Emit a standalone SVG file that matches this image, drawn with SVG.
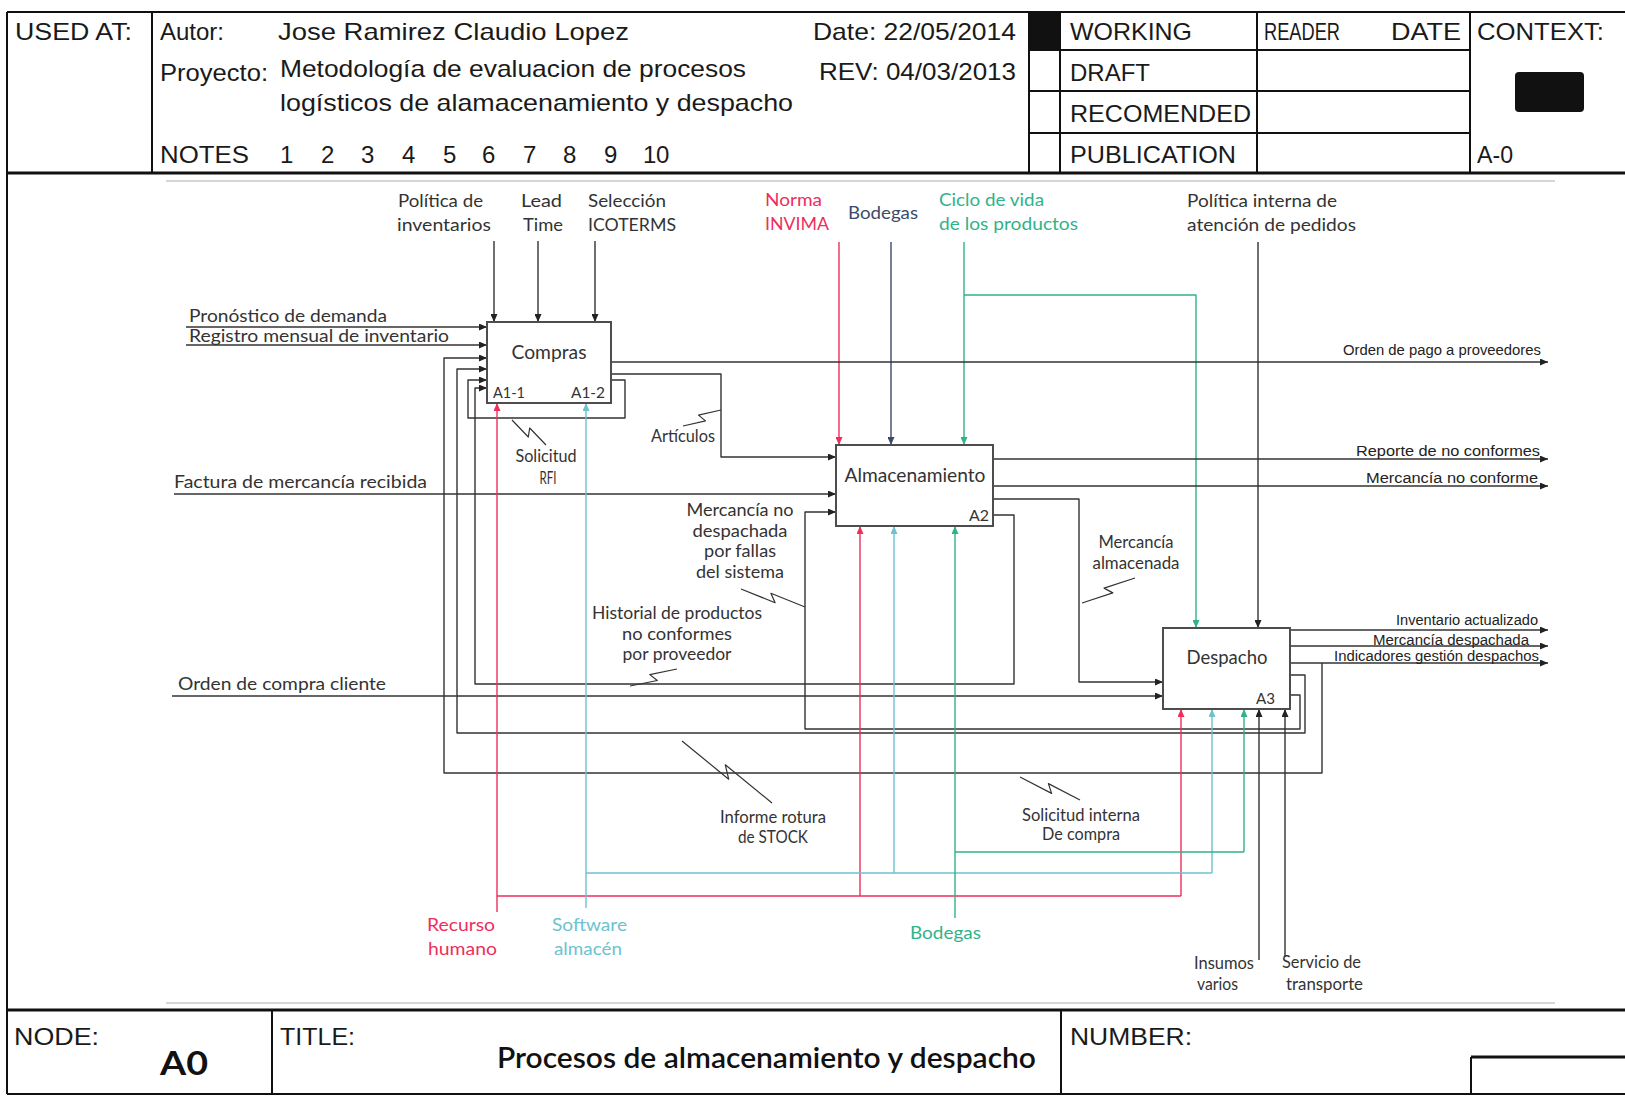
<svg xmlns="http://www.w3.org/2000/svg" width="1625" height="1096" viewBox="0 0 1625 1096">
  <defs>
    <style>
      .frame { fill: none; stroke: #111; stroke-width: 2; }
      .thick { fill: none; stroke: #111; stroke-width: 3.2; }
      .faint { fill: none; stroke: #d6d6d6; stroke-width: 2; }
      .hdr { font-family: "Liberation Sans", Arial, sans-serif; font-size: 24px; fill: #1a1a1a; }
      .lbl { font-family: Lato, "Liberation Sans", sans-serif; font-size: 17px; fill: #333; }
      .out { font-family: "Liberation Sans", Arial, sans-serif; font-size: 14px; fill: #222; }
      .red { fill: #ee2e5b; }
      .grn { fill: #2fb38a; }
      .teal { fill: #6cc2cf; }
      .navy { fill: #3b4a6a; }
      .box { fill: #fff; stroke: #4d4d4d; stroke-width: 2; }
      .name { font-family: Lato, "Liberation Sans", sans-serif; font-size: 19px; fill: #333; }
      .code { font-family: Lato, "Liberation Sans", sans-serif; font-size: 15px; fill: #333; }
      .conn path { fill: none; stroke: #333; stroke-width: 1.4; stroke-linejoin: round; }
      .conn .k { marker-end: url(#ak); }
      .conn .r { stroke: #ee2e5b; }
      .conn .r.m { marker-end: url(#ar); }
      .conn .g { stroke: #2fb38a; }
      .conn .g.m { marker-end: url(#ag); }
      .conn .t { stroke: #6cc2cf; }
      .conn .t.m { marker-end: url(#at); }
      .conn .n { stroke: #3b4a6a; marker-end: url(#an); }
      .conn .sq { stroke: #333; stroke-width: 1.2; }
      .bold { font-family: Lato, "Liberation Sans", sans-serif; font-weight: bold; fill: #111; }
    </style>
    <marker id="ak" viewBox="0 0 8 7" refX="8" refY="3.5" markerWidth="8" markerHeight="7" markerUnits="userSpaceOnUse" orient="auto"><path d="M0,0 L8,3.5 L0,7 z" fill="#222"/></marker>
    <marker id="ar" viewBox="0 0 8 7" refX="8" refY="3.5" markerWidth="8" markerHeight="7" markerUnits="userSpaceOnUse" orient="auto"><path d="M0,0 L8,3.5 L0,7 z" fill="#ee2e5b"/></marker>
    <marker id="ag" viewBox="0 0 8 7" refX="8" refY="3.5" markerWidth="8" markerHeight="7" markerUnits="userSpaceOnUse" orient="auto"><path d="M0,0 L8,3.5 L0,7 z" fill="#2fb38a"/></marker>
    <marker id="at" viewBox="0 0 8 7" refX="8" refY="3.5" markerWidth="8" markerHeight="7" markerUnits="userSpaceOnUse" orient="auto"><path d="M0,0 L8,3.5 L0,7 z" fill="#6cc2cf"/></marker>
    <marker id="an" viewBox="0 0 8 7" refX="8" refY="3.5" markerWidth="8" markerHeight="7" markerUnits="userSpaceOnUse" orient="auto"><path d="M0,0 L8,3.5 L0,7 z" fill="#3b4a6a"/></marker>
  </defs>

  <rect width="1625" height="1096" fill="#fff"/>

  <!-- Title block: header -->
  <g id="header">
    <path class="frame" d="M7 12 H1625 M7 12 V1094 M152 12 V173 M1029 12 V173 M1060 12 V173 M1257 12 V173 M1470 12 V173 M1029 50 H1470 M1029 91 H1470 M1029 133 H1470"/>
    <rect x="1029" y="12" width="31" height="38" fill="#111"/>
    <path class="thick" d="M7 173 H1625"/>
    <rect x="1515" y="72" width="69" height="40" rx="4" fill="#111"/>
    <text class="hdr" x="15" y="40" textLength="117" lengthAdjust="spacingAndGlyphs">USED AT:</text>
    <text class="hdr" x="160" y="40" textLength="64" lengthAdjust="spacingAndGlyphs">Autor:</text>
    <text class="hdr" x="278" y="40" textLength="351" lengthAdjust="spacingAndGlyphs">Jose Ramirez Claudio Lopez</text>
    <text class="hdr" x="813" y="40" textLength="203" lengthAdjust="spacingAndGlyphs">Date: 22/05/2014</text>
    <text class="hdr" x="160" y="81" textLength="108" lengthAdjust="spacingAndGlyphs">Proyecto:</text>
    <text class="hdr" x="280" y="77" textLength="466" lengthAdjust="spacingAndGlyphs">Metodología de evaluacion de procesos</text>
    <text class="hdr" x="280" y="111" textLength="513" lengthAdjust="spacingAndGlyphs">logísticos de alamacenamiento y despacho</text>
    <text class="hdr" x="819" y="80" textLength="197" lengthAdjust="spacingAndGlyphs">REV: 04/03/2013</text>
    <text class="hdr" x="160" y="163" textLength="89" lengthAdjust="spacingAndGlyphs">NOTES</text>
    <text class="hdr" x="280 321 361 402 443 482 523 563 604 643 656" y="163">12345678910</text>
    <text class="hdr" x="1070" y="40" textLength="122" lengthAdjust="spacingAndGlyphs">WORKING</text>
    <text class="hdr" x="1070" y="81" textLength="80" lengthAdjust="spacingAndGlyphs">DRAFT</text>
    <text class="hdr" x="1070" y="122" textLength="181" lengthAdjust="spacingAndGlyphs">RECOMENDED</text>
    <text class="hdr" x="1070" y="163" textLength="166" lengthAdjust="spacingAndGlyphs">PUBLICATION</text>
    <text class="hdr" x="1264" y="40" textLength="76" lengthAdjust="spacingAndGlyphs">READER</text>
    <text class="hdr" x="1391" y="40" textLength="70" lengthAdjust="spacingAndGlyphs">DATE</text>
    <text class="hdr" x="1477" y="40" textLength="127" lengthAdjust="spacingAndGlyphs">CONTEXT:</text>
    <text class="hdr" x="1477" y="163" textLength="36" lengthAdjust="spacingAndGlyphs">A-0</text>
  </g>

  <!-- faint inner sheet border -->
  <path class="faint" d="M166 181 H1555 M166 1003 H1555"/>

  <!-- Title block: footer -->
  <g id="footer">
    <path class="thick" d="M7 1010 H1625 M1471 1057 H1625"/>
    <path class="frame" d="M272 1010 V1094 M1061 1010 V1094 M1471 1057 V1094 M7 1094 H1625"/>
    <text class="hdr" x="14" y="1045" textLength="85" lengthAdjust="spacingAndGlyphs">NODE:</text>
    <text class="bold" x="160" y="1075" font-size="32" textLength="48" lengthAdjust="spacingAndGlyphs">A0</text>
    <text class="hdr" x="280" y="1045" textLength="75" lengthAdjust="spacingAndGlyphs">TITLE:</text>
    <text class="bold" x="497" y="1068" font-size="28" textLength="539" lengthAdjust="spacingAndGlyphs" style="font-weight:600">Procesos de almacenamiento y despacho</text>
    <text class="hdr" x="1070" y="1045" textLength="122" lengthAdjust="spacingAndGlyphs">NUMBER:</text>
  </g>

  <!-- Arrows (ICOM connectors) -->
  <g id="connectors" class="conn">
    <!-- controls -->
    <path class="k" d="M494 241 V322"/>
    <path class="k" d="M538 241 V322"/>
    <path class="k" d="M595 241 V322"/>
    <path class="r m" d="M839 242 V445"/>
    <path class="n" d="M891 242 V445"/>
    <path class="g m" d="M964 242 V445"/>
    <path class="g m" d="M964 295 H1196 V628"/>
    <path class="k" d="M1258 242 V628"/>
    <!-- inputs -->
    <path class="k" d="M186 327 H487"/>
    <path class="k" d="M186 345 H487"/>
    <path class="k" d="M174 494 H836"/>
    <path class="k" d="M172 696 H1163"/>
    <!-- outputs -->
    <path class="k" d="M611 362 H1548"/>
    <path class="k" d="M611 374 H721 V457 H836"/>
    <path class="k" d="M611 380 H625 V418 H468 V380 H487"/>
    <path class="k" d="M993 459 H1548"/>
    <path class="k" d="M993 486 H1548"/>
    <path class="k" d="M993 499 H1079 V682 H1163"/>
    <path class="k" d="M993 515 H1014 V684 H475 V388 H487"/>
    <path class="k" d="M1290 630 H1548"/>
    <path class="k" d="M1290 646 H1548"/>
    <path class="k" d="M1290 663 H1548"/>
    <!-- feedback loops -->
    <path class="k" d="M1322 663 V773 H444 V358 H487"/>
    <path class="k" d="M1290 675 H1305 V733 H457 V369 H487"/>
    <path class="k" d="M1290 695 H1300 V729 H805 V512 H836"/>
    <!-- mechanisms -->
    <path class="r" d="M497 896 H1181"/>
    <path class="r m" d="M497 912 V403"/>
    <path class="r m" d="M860 896 V526"/>
    <path class="r m" d="M1181 896 V709"/>
    <path class="t" d="M586 873 H1212"/>
    <path class="t m" d="M586 908 V403"/>
    <path class="t m" d="M894 873 V526"/>
    <path class="t m" d="M1212 873 V709"/>
    <path class="g" d="M955 852 H1244"/>
    <path class="g m" d="M955 918 V526"/>
    <path class="g m" d="M1244 852 V709"/>
    <path class="k" d="M1259 960 V709"/>
    <path class="k" d="M1285 957 V709"/>
    <!-- label squiggles -->
    <path class="sq" d="M512 420 L528.3 437 L529.7 428 L546 445"/>
    <path class="sq" d="M683 426 L705.5 420.9 L698.5 415.1 L721 410"/>
    <path class="sq" d="M741 589 L775.1 602.7 L770.9 593.3 L805 607"/>
    <path class="sq" d="M677 669 L649.8 674.6 L657.3 680.5 L630 686"/>
    <path class="sq" d="M682 741 L728.7 779.2 L725.3 764.8 L772 803"/>
    <path class="sq" d="M1020 777 L1051.6 793.4 L1048.4 783.6 L1080 800"/>
    <path class="sq" d="M1135 578 L1104.1 588.1 L1112.8 592.9 L1082 603"/>
  </g>

  <!-- Activity boxes -->
  <g id="compras">
    <rect class="box" x="487" y="322" width="124" height="81"/>
    <text class="name" x="549" y="359" text-anchor="middle" textLength="75" lengthAdjust="spacingAndGlyphs">Compras</text>
    <text class="code" x="493" y="398" textLength="32" lengthAdjust="spacingAndGlyphs">A1-1</text>
    <text class="code" x="571" y="398" textLength="34" lengthAdjust="spacingAndGlyphs">A1-2</text>
  </g>
  <g id="almacenamiento">
    <rect class="box" x="836" y="445" width="157" height="81"/>
    <text class="name" x="915" y="482" text-anchor="middle" textLength="141" lengthAdjust="spacingAndGlyphs">Almacenamiento</text>
    <text class="code" x="969" y="521" textLength="20" lengthAdjust="spacingAndGlyphs">A2</text>
  </g>
  <g id="despacho">
    <rect class="box" x="1163" y="628" width="127" height="81"/>
    <text class="name" x="1227" y="664" text-anchor="middle" textLength="81" lengthAdjust="spacingAndGlyphs">Despacho</text>
    <text class="code" x="1256" y="704" textLength="19" lengthAdjust="spacingAndGlyphs">A3</text>
  </g>

  <!-- Arrow labels -->
  <g id="labels">
    <text class="lbl" x="398" y="207" textLength="85" lengthAdjust="spacingAndGlyphs">Política de</text>
    <text class="lbl" x="397" y="231" textLength="94" lengthAdjust="spacingAndGlyphs">inventarios</text>
    <text class="lbl" x="521" y="207" textLength="41" lengthAdjust="spacingAndGlyphs">Lead</text>
    <text class="lbl" x="523" y="231" textLength="40" lengthAdjust="spacingAndGlyphs">Time</text>
    <text class="lbl" x="588" y="207" textLength="78" lengthAdjust="spacingAndGlyphs">Selección</text>
    <text class="lbl" x="588" y="231" textLength="88" lengthAdjust="spacingAndGlyphs">ICOTERMS</text>
    <text class="lbl red" x="765" y="206" textLength="57" lengthAdjust="spacingAndGlyphs">Norma</text>
    <text class="lbl red" x="765" y="230" textLength="64" lengthAdjust="spacingAndGlyphs">INVIMA</text>
    <text class="lbl navy" x="848" y="219" textLength="70" lengthAdjust="spacingAndGlyphs">Bodegas</text>
    <text class="lbl grn" x="939" y="206" textLength="105" lengthAdjust="spacingAndGlyphs">Ciclo de vida</text>
    <text class="lbl grn" x="939" y="230" textLength="139" lengthAdjust="spacingAndGlyphs">de los productos</text>
    <text class="lbl" x="1187" y="207" textLength="150" lengthAdjust="spacingAndGlyphs">Política interna de</text>
    <text class="lbl" x="1187" y="231" textLength="169" lengthAdjust="spacingAndGlyphs">atención de pedidos</text>

    <text class="lbl" x="189" y="322" font-size="16" textLength="198" lengthAdjust="spacingAndGlyphs">Pronóstico de demanda</text>
    <text class="lbl" x="189" y="342" font-size="16" textLength="260" lengthAdjust="spacingAndGlyphs">Registro mensual de inventario</text>
    <text class="lbl" x="174" y="488" textLength="253" lengthAdjust="spacingAndGlyphs">Factura de mercancía recibida</text>
    <text class="lbl" x="178" y="690" textLength="208" lengthAdjust="spacingAndGlyphs">Orden de compra cliente</text>

    <text class="lbl" x="546" y="462" text-anchor="middle" font-size="15" textLength="61" lengthAdjust="spacingAndGlyphs">Solicitud</text>
    <text class="lbl" x="548" y="484" text-anchor="middle" font-size="15" textLength="17" lengthAdjust="spacingAndGlyphs">RFI</text>
    <text class="lbl" x="683" y="442" text-anchor="middle" font-size="15" textLength="64" lengthAdjust="spacingAndGlyphs">Artículos</text>
    <text class="lbl" x="740" y="516" text-anchor="middle" textLength="107" lengthAdjust="spacingAndGlyphs">Mercancía no</text>
    <text class="lbl" x="740" y="537" text-anchor="middle" textLength="95" lengthAdjust="spacingAndGlyphs">despachada</text>
    <text class="lbl" x="740" y="557" text-anchor="middle" textLength="72" lengthAdjust="spacingAndGlyphs">por fallas</text>
    <text class="lbl" x="740" y="578" text-anchor="middle" textLength="88" lengthAdjust="spacingAndGlyphs">del sistema</text>
    <text class="lbl" x="677" y="619" text-anchor="middle" textLength="170" lengthAdjust="spacingAndGlyphs">Historial de productos</text>
    <text class="lbl" x="677" y="640" text-anchor="middle" textLength="110" lengthAdjust="spacingAndGlyphs">no conformes</text>
    <text class="lbl" x="677" y="660" text-anchor="middle" textLength="109" lengthAdjust="spacingAndGlyphs">por proveedor</text>
    <text class="lbl" x="1136" y="548" text-anchor="middle" font-size="15" textLength="75" lengthAdjust="spacingAndGlyphs">Mercancía</text>
    <text class="lbl" x="1136" y="569" text-anchor="middle" font-size="15" textLength="87" lengthAdjust="spacingAndGlyphs">almacenada</text>
    <text class="lbl" x="773" y="823" text-anchor="middle" font-size="15" textLength="106" lengthAdjust="spacingAndGlyphs">Informe rotura</text>
    <text class="lbl" x="773" y="843" text-anchor="middle" font-size="15" textLength="70" lengthAdjust="spacingAndGlyphs">de STOCK</text>
    <text class="lbl" x="1081" y="821" text-anchor="middle" font-size="15" textLength="118" lengthAdjust="spacingAndGlyphs">Solicitud interna</text>
    <text class="lbl" x="1081" y="840" text-anchor="middle" font-size="15" textLength="78" lengthAdjust="spacingAndGlyphs">De compra</text>

    <text class="lbl red" x="427" y="931" textLength="68" lengthAdjust="spacingAndGlyphs">Recurso</text>
    <text class="lbl red" x="428" y="955" textLength="69" lengthAdjust="spacingAndGlyphs">humano</text>
    <text class="lbl teal" x="552" y="931" textLength="75" lengthAdjust="spacingAndGlyphs">Software</text>
    <text class="lbl teal" x="554" y="955" textLength="68" lengthAdjust="spacingAndGlyphs">almacén</text>
    <text class="lbl grn" x="910" y="939" textLength="71" lengthAdjust="spacingAndGlyphs">Bodegas</text>
    <text class="lbl" x="1194" y="969" font-size="15" textLength="60" lengthAdjust="spacingAndGlyphs">Insumos</text>
    <text class="lbl" x="1197" y="990" font-size="15" textLength="41" lengthAdjust="spacingAndGlyphs">varios</text>
    <text class="lbl" x="1282" y="968" font-size="15" textLength="79" lengthAdjust="spacingAndGlyphs">Servicio de</text>
    <text class="lbl" x="1286" y="990" font-size="15" textLength="77" lengthAdjust="spacingAndGlyphs">transporte</text>

    <text class="out" x="1343" y="355" textLength="198" lengthAdjust="spacingAndGlyphs">Orden de pago a proveedores</text>
    <text class="out" x="1356" y="456" textLength="184" lengthAdjust="spacingAndGlyphs">Reporte de no conformes</text>
    <text class="out" x="1366" y="483" textLength="172" lengthAdjust="spacingAndGlyphs">Mercancía no conforme</text>
    <text class="out" x="1396" y="625" textLength="142" lengthAdjust="spacingAndGlyphs">Inventario actualizado</text>
    <text class="out" x="1373" y="645" textLength="156" lengthAdjust="spacingAndGlyphs">Mercancía despachada</text>
    <text class="out" x="1334" y="661" textLength="205" lengthAdjust="spacingAndGlyphs">Indicadores gestión despachos</text>
  </g>
</svg>
